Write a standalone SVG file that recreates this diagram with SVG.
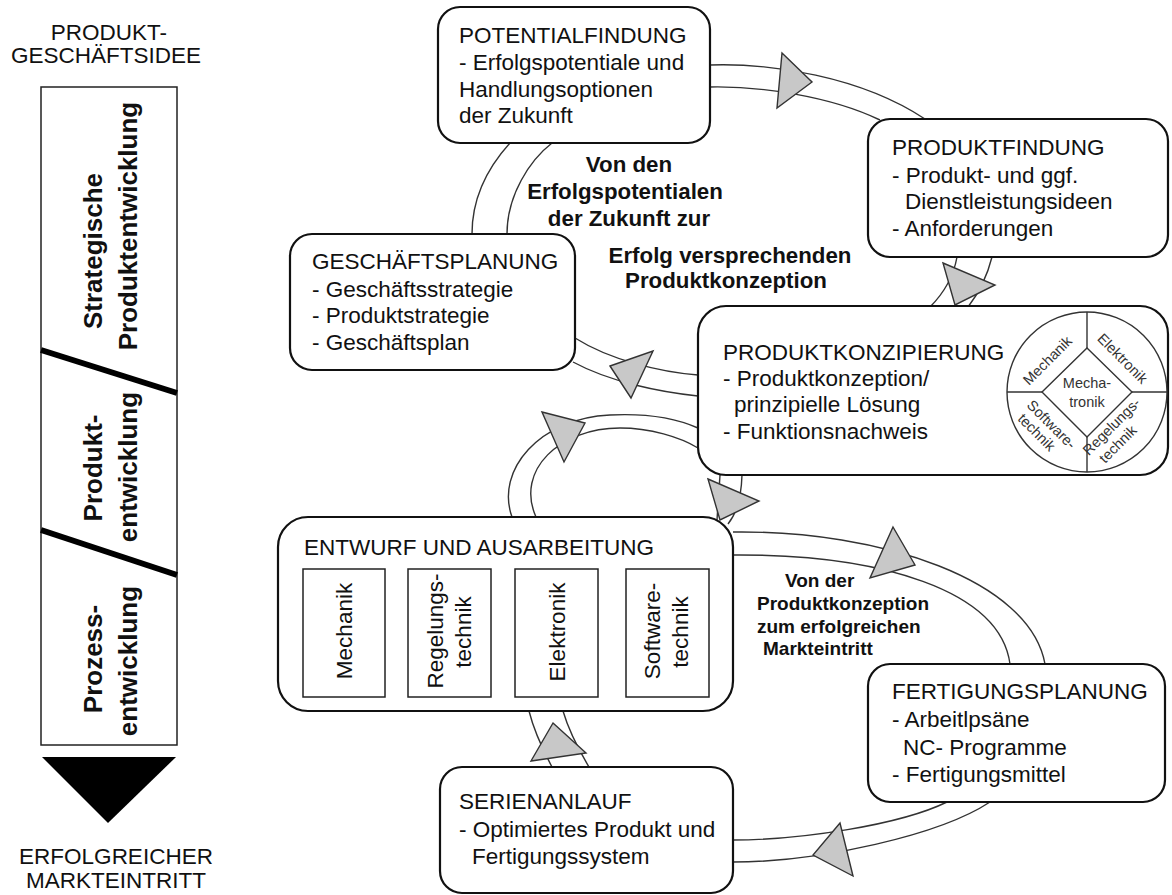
<svg xmlns="http://www.w3.org/2000/svg" width="1172" height="895" viewBox="0 0 1172 895">
<style>
text{font-family:"Liberation Sans",Arial,Helvetica,sans-serif;fill:#111;}
.t{font-size:22.5px;}
.b{font-size:22.3px;font-weight:bold;}
.lb{font-size:26px;font-weight:bold;}
.sb{font-size:19px;font-weight:bold;}
.q{font-size:14.5px;fill:#333;}
.box{fill:#fff;stroke:#111;stroke-width:2.2;}
.sub{fill:#fff;stroke:#222;stroke-width:1.5;}
.ln{fill:none;stroke:#333;stroke-width:1.4;}
.tri{fill:#c8c8c8;stroke:#333;stroke-width:1.4;stroke-linejoin:miter;}
.c{text-anchor:middle;}
</style>

<g id="phase-bar">
  <text class="t c" x="109" y="40">PRODUKT-</text>
  <text class="t c" x="106" y="63">GESCHÄFTSIDEE</text>
  <rect x="41" y="87" width="136" height="658" fill="#fff" stroke="#222" stroke-width="1.5"/>
  <line x1="41" y1="350" x2="177" y2="393" stroke="#000" stroke-width="6"/>
  <line x1="41" y1="530" x2="177" y2="575" stroke="#000" stroke-width="6"/>
  <text class="lb c" transform="translate(102,251) rotate(-90)">Strategische</text>
  <text class="lb c" transform="translate(137,226) rotate(-90)">Produktentwicklung</text>
  <text class="lb c" transform="translate(102,468) rotate(-90)">Produkt-</text>
  <text class="lb c" transform="translate(137,467) rotate(-90)">entwicklung</text>
  <text class="lb c" transform="translate(102,659) rotate(-90)">Prozess-</text>
  <text class="lb c" transform="translate(137,661) rotate(-90)">entwicklung</text>
  <polygon points="42,757 176,757 108,823" fill="#000"/>
  <text class="t c" x="116" y="864">ERFOLGREICHER</text>
  <text class="t c" x="116" y="888">MARKTEINTRITT</text>
</g>

<g id="connectors">
  <path class="ln" d="M710,65 C770,63 860,76 925,119"/>
  <path class="ln" d="M710,87 C760,86 830,96 880,120"/>
  <path class="ln" d="M957,257 Q952,285 930,307"/>
  <path class="ln" d="M992,257 Q985,285 968,307"/>
  <path class="ln" d="M698,375 C660,372 610,360 575,338"/>
  <path class="ln" d="M698,396 C660,392 610,382 573,362"/>
  <path class="ln" d="M510,143 C490,165 472,195 472,234"/>
  <path class="ln" d="M552,143 C530,160 507,195 507,234"/>
  <path class="ln" d="M512,517 C495,470 540,418 610,415 C650,413 680,420 698,428"/>
  <path class="ln" d="M536,517 C515,470 560,428 620,428 C650,428 680,437 698,448"/>
  <path class="ln" d="M720,475 L717,520"/>
  <path class="ln" d="M742,475 Q741,508 728,524"/>
  <path class="ln" d="M733,532 C880,530 1030,580 1045,664"/>
  <path class="ln" d="M733,555 C880,554 1000,590 1010,664"/>
  <path class="ln" d="M947,802 C900,825 800,840 733,840"/>
  <path class="ln" d="M990,802 C940,835 820,862 733,862"/>
  <path class="ln" d="M552,767 Q535,735 529,711"/>
  <path class="ln" d="M589,767 Q570,735 563,711"/>

  <polygon class="tri" points="782,53 812,82 777,108"/>
  <polygon class="tri" points="943,263 995,285 955,305"/>
  <polygon class="tri" points="610,366 653,351 631,398"/>
  <polygon class="tri" points="542,412 585,423 564,462"/>
  <polygon class="tri" points="708,479 759,501 720,520"/>
  <polygon class="tri" points="893,527 915,565 870,578"/>
  <polygon class="tri" points="840,823 813,855 853,876"/>
  <polygon class="tri" points="553,723 586,753 531,761"/>
</g>

<g id="label-top">
  <text class="b c" x="629" y="172">Von den</text>
  <text class="b c" x="625" y="199">Erfolgspotentialen</text>
  <text class="b c" x="629" y="226">der Zukunft zur</text>
  <text class="b c" x="730" y="263">Erfolg versprechenden</text>
  <text class="b c" x="726" y="288">Produktkonzeption</text>
</g>

<g id="label-bottom">
  <text class="sb" x="785" y="587">Von der</text>
  <text class="sb" x="757" y="610">Produktkonzeption</text>
  <text class="sb" x="757" y="633">zum erfolgreichen</text>
  <text class="sb" x="763" y="655">Markteintritt</text>
</g>

<g id="potentialfindung">
  <rect class="box" x="438" y="7" width="272" height="136" rx="22"/>
  <text class="t" x="459" y="43">POTENTIALFINDUNG</text>
  <text class="t" x="459" y="70">- Erfolgspotentiale und</text>
  <text class="t" x="459" y="97">Handlungsoptionen</text>
  <text class="t" x="459" y="123">der Zukunft</text>
</g>

<g id="produktfindung">
  <rect class="box" x="868" y="119" width="300" height="138" rx="22"/>
  <text class="t" x="892" y="155">PRODUKTFINDUNG</text>
  <text class="t" x="892" y="183">- Produkt- und ggf.</text>
  <text class="t" x="905" y="209">Dienstleistungsideen</text>
  <text class="t" x="892" y="236">- Anforderungen</text>
</g>

<g id="geschaeftsplanung">
  <rect class="box" x="290" y="234" width="285" height="136" rx="22"/>
  <text class="t" x="312" y="269">GESCHÄFTSPLANUNG</text>
  <text class="t" x="312" y="297">- Geschäftsstrategie</text>
  <text class="t" x="312" y="323">- Produktstrategie</text>
  <text class="t" x="312" y="350">- Geschäftsplan</text>
</g>

<g id="produktkonzipierung">
  <rect class="box" x="698" y="306" width="470" height="169" rx="28"/>
  <text class="t" x="723" y="360">PRODUKTKONZIPIERUNG</text>
  <text class="t" x="723" y="386">- Produktkonzeption/</text>
  <text class="t" x="734" y="412">prinzipielle Lösung</text>
  <text class="t" x="723" y="439">- Funktionsnachweis</text>
  <g id="mechatronik">
    <circle cx="1087" cy="392" r="80" fill="#fff" stroke="#333" stroke-width="1.4"/>
    <polygon points="1087,348 1132,392 1087,437 1042,392" fill="none" stroke="#333" stroke-width="1.4"/>
    <line x1="1087" y1="312" x2="1087" y2="348" stroke="#333" stroke-width="1.4"/>
    <line x1="1087" y1="437" x2="1087" y2="472" stroke="#333" stroke-width="1.4"/>
    <line x1="1007" y1="392" x2="1042" y2="392" stroke="#333" stroke-width="1.4"/>
    <line x1="1132" y1="392" x2="1167" y2="392" stroke="#333" stroke-width="1.4"/>
    <text class="q c" x="1087" y="388">Mecha-</text>
    <text class="q c" x="1087" y="407">tronik</text>
    <text class="q c" transform="translate(1051,364) rotate(-45)">Mechanik</text>
    <text class="q c" transform="translate(1119,362) rotate(45)">Elektronik</text>
    <g transform="translate(1048,428) rotate(45)">
      <text class="q c" x="0" y="0">Software-</text>
      <text class="q c" x="-5" y="16">technik</text>
    </g>
    <g transform="translate(1115,430) rotate(-45)">
      <text class="q c" x="0" y="0">Regelungs-</text>
      <text class="q c" x="-8" y="17">technik</text>
    </g>
  </g>
</g>

<g id="entwurf">
  <rect class="box" x="278" y="517" width="455" height="194" rx="30"/>
  <text class="t" x="304" y="555">ENTWURF UND AUSARBEITUNG</text>
  <rect class="sub" x="303" y="569" width="82" height="128"/>
  <rect class="sub" x="408" y="569" width="83" height="128"/>
  <rect class="sub" x="515" y="569" width="83" height="128"/>
  <rect class="sub" x="626" y="569" width="83" height="128"/>
  <text class="t c" transform="translate(352,631) rotate(-90)">Mechanik</text>
  <text class="t c" transform="translate(443,631) rotate(-90)">Regelungs-</text>
  <text class="t c" transform="translate(471,632) rotate(-90)">technik</text>
  <text class="t c" transform="translate(565,632) rotate(-90)">Elektronik</text>
  <text class="t c" transform="translate(660,631) rotate(-90)">Software-</text>
  <text class="t c" transform="translate(688,632) rotate(-90)">technik</text>
</g>

<g id="fertigungsplanung">
  <rect class="box" x="868" y="664" width="297" height="138" rx="22"/>
  <text class="t" x="892" y="699">FERTIGUNGSPLANUNG</text>
  <text class="t" x="892" y="727">- Arbeitlpsäne</text>
  <text class="t" x="903" y="755">NC- Programme</text>
  <text class="t" x="892" y="782">- Fertigungsmittel</text>
</g>

<g id="serienanlauf">
  <rect class="box" x="440" y="767" width="293" height="126" rx="22"/>
  <text class="t" x="459" y="809">SERIENANLAUF</text>
  <text class="t" x="459" y="837">- Optimiertes Produkt und</text>
  <text class="t" x="472" y="864">Fertigungssystem</text>
</g>
</svg>
